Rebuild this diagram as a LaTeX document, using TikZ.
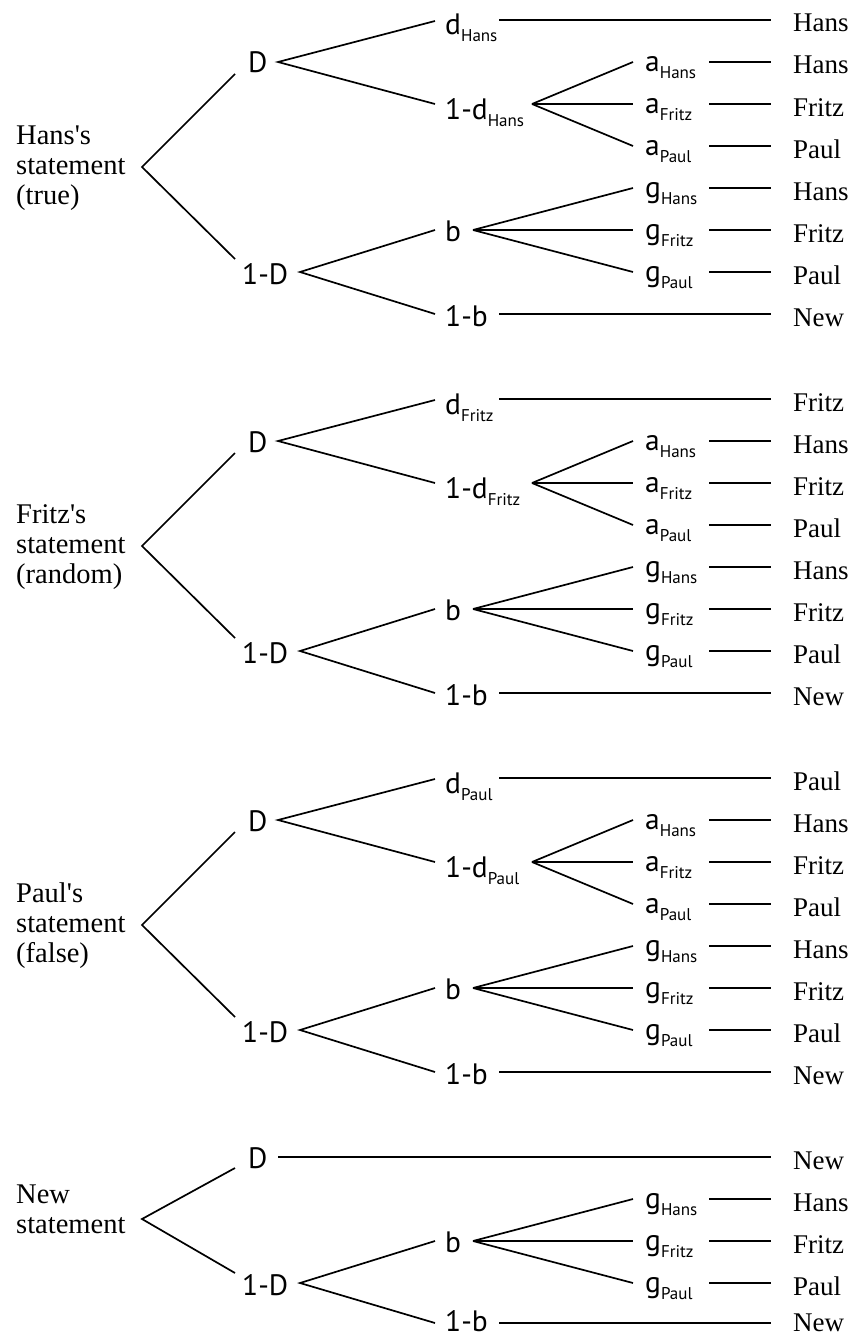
\documentclass[tikz,border=0pt]{standalone}
\usepackage{fontspec}
\setmainfont{Liberation Serif}
\newfontfamily\labfont{PT Sans}
\tikzset{
  lab/.style={anchor=base west, inner sep=0pt, font=\labfont\fontsize{29.5}{30}\selectfont},
  leaf/.style={anchor=base west, inner sep=0pt, font=\fontsize{27}{30}\selectfont},
  roottext/.style={anchor=west, inner sep=0pt, align=left, font=\fontsize{28.5}{30}\selectfont},
  edge/.style={line width=1.7pt},
}
\newcommand{\sub}[1]{\raisebox{-7pt}{\fontsize{17}{17}\selectfont #1}}
% three a/g leaves: #1 prefix, #2 letter, #3 top row, #4 apex coordinate
\newcommand{\threeleaves}[4]{%
  \foreach \n/\k in {Hans/0,Fritz/42,Paul/84}{
    \coordinate (#1-#2\n in) at (633,{#3+\k});
    \node[lab] (#1-#2\n) at (645,{#3+\k+9.5}) {#2\sub{\n}};
    \coordinate (#1-#2\n out) at (709,{#3+\k});
    \coordinate (#1-#2\n end) at (771,{#3+\k});
    \node[leaf] (#1-#2\n leaf) at (793,{#3+\k+12}) {\n};
    \draw[edge] (#4) -- (#1-#2\n in);
    \draw[edge] (#1-#2\n out) -- (#1-#2\n end);
  }%
}
% b subtree: #1 prefix, #2 row of b
\newcommand{\bbranch}[2]{%
  \node[lab] (#1-b) at (445,{#2+11.5}) {b};
  \coordinate (#1-bout) at (473,#2);
  \threeleaves{#1}{g}{#2-42}{#1-bout}
}
% 1-b subtree: #1 prefix, #2 row, #3 baseline offset
\newcommand{\nbbranch}[3]{%
  \node[lab] (#1-nb) at (445,{#2+#3}) {1-b};
  \coordinate (#1-nbout) at (499,#2);
  \coordinate (#1-nbend) at (771,#2);
  \node[leaf] (#1-nbleaf) at (793,{#2+#3}) {New};
  \draw[edge] (#1-nbout) -- (#1-nbend);
}
% full statement tree: #1 prefix, #2 top row, #3 root text, #4 person
\newcommand{\stmttree}[4]{%
  \coordinate (#1-root) at (142,{#2+147});
  \node[roottext] (#1-rt) at (16,{#2+148}) {#3};
  \node[lab] (#1-D) at (248,{#2+53}) {D};
  \coordinate (#1-Din) at (235,{#2+54});
  \coordinate (#1-Dout) at (278,{#2+42});
  \node[lab] (#1-ND) at (242,{#2+264}) {1-D};
  \coordinate (#1-NDin) at (235,{#2+239});
  \coordinate (#1-NDout) at (300,{#2+252});
  \draw[edge] (#1-Din) -- (#1-root) -- (#1-NDin);
  \coordinate (#1-din) at (435,{#2+1});
  \node[lab] (#1-d) at (445,{#2+15}) {d\sub{#4}};
  \coordinate (#1-dout) at (499,#2);
  \coordinate (#1-dend) at (771,#2);
  \node[leaf] (#1-dleaf) at (793,{#2+12}) {#4};
  \coordinate (#1-ndin) at (435,{#2+84});
  \node[lab] (#1-nd) at (445,{#2+99}) {1-d\sub{#4}};
  \coordinate (#1-ndout) at (532,{#2+84});
  \draw[edge] (#1-din) -- (#1-Dout) -- (#1-ndin);
  \draw[edge] (#1-dout) -- (#1-dend);
  \threeleaves{#1}{a}{#2+42}{#1-ndout}
  \coordinate (#1-bin) at (435,{#2+210});
  \coordinate (#1-nbin) at (435,{#2+294});
  \draw[edge] (#1-bin) -- (#1-NDout) -- (#1-nbin);
  \bbranch{#1}{#2+210}
  \nbbranch{#1}{#2+294}{12}
}
\begin{document}
\begin{tikzpicture}[x=1pt,y=-1pt]
\useasboundingbox (0,0) rectangle (862,1338);
\stmttree{s1}{20}{Hans\textquotesingle s\\statement\\(true)}{Hans}
\stmttree{s2}{399}{Fritz\textquotesingle s\\statement\\(random)}{Fritz}
\stmttree{s3}{778}{Paul\textquotesingle s\\statement\\(false)}{Paul}
% New statement
\coordinate (s4-root) at (142,1219);
\node[roottext] (s4-rt) at (16,1209) {New\\statement};
\node[lab] (s4-D) at (248,1168) {D};
\coordinate (s4-Din) at (235,1168);
\coordinate (s4-Dout) at (278,1157);
\coordinate (s4-Dend) at (771,1157);
\node[leaf] (s4-Dleaf) at (793,1169) {New};
\node[lab] (s4-ND) at (242,1295) {1-D};
\coordinate (s4-NDin) at (235,1273);
\coordinate (s4-NDout) at (300,1283);
\draw[edge] (s4-Din) -- (s4-root) -- (s4-NDin);
\draw[edge] (s4-Dout) -- (s4-Dend);
\coordinate (s4-bin) at (435,1241);
\coordinate (s4-nbin) at (435,1323);
\draw[edge] (s4-bin) -- (s4-NDout) -- (s4-nbin);
\bbranch{s4}{1241}
\nbbranch{s4}{1323}{8}
\end{tikzpicture}
\end{document}
